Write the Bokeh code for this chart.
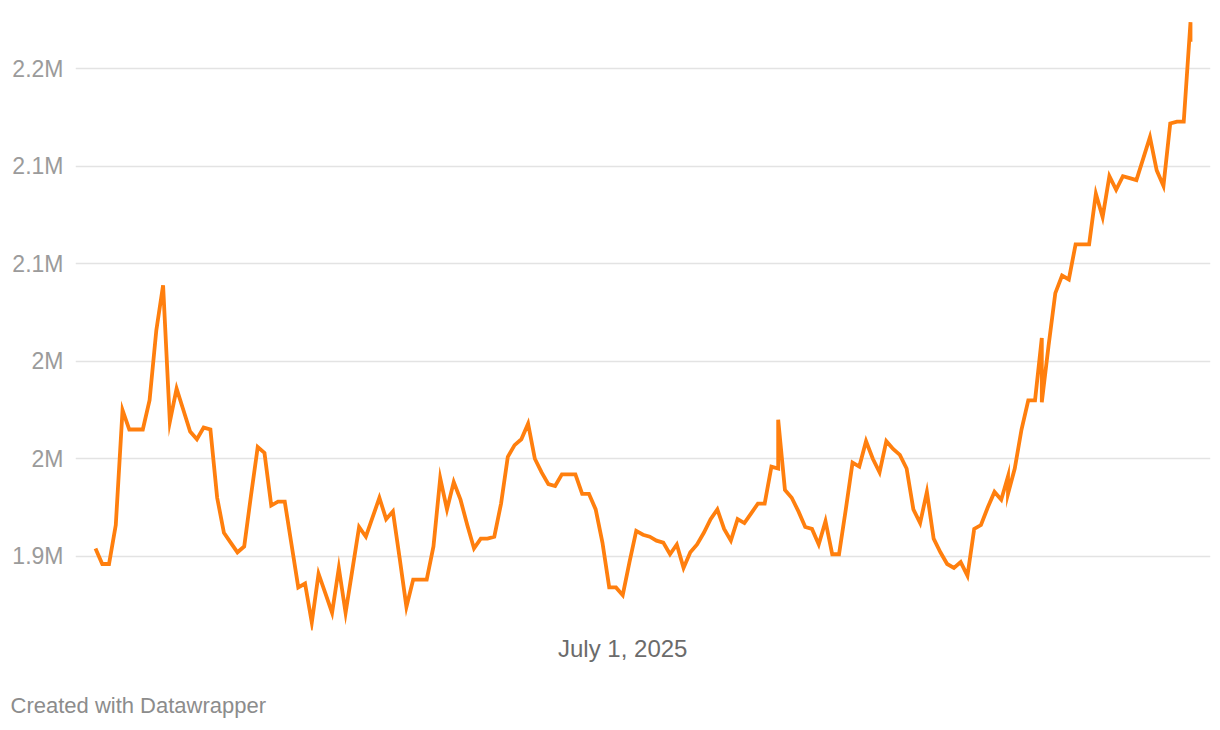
import pandas as pd
from bokeh.plotting import figure
from bokeh.models import ColumnDataSource, FixedTicker, Range1d, Title
from bokeh.embed import file_html
from bokeh.resources import INLINE

# ---- data ----
dates_apr = ["2025-04-14", "2025-04-15", "2025-04-16", "2025-04-17", "2025-04-18", "2025-04-19",
             "2025-04-20", "2025-04-21", "2025-04-22", "2025-04-23", "2025-04-24", "2025-04-25",
             "2025-04-26", "2025-04-27", "2025-04-28", "2025-04-29", "2025-04-30"]
values_apr = [1904000, 1896000, 1896000, 1916000, 1975000, 1965000,
              1965000, 1965000, 1980000, 2016000, 2039000, 1969000,
              1986000, 1975000, 1964000, 1960000, 1966000]

dates_may = ["2025-05-%02d" % d for d in range(1, 32)]
values_may = [1965000, 1930000, 1912000, 1907000, 1902000, 1905000, 1931000, 1956000,
              1953000, 1926000, 1928000, 1928000, 1906000, 1884000, 1886000, 1866000,
              1891000, 1881000, 1871000, 1894000, 1871000, 1893000, 1915000, 1910000,
              1920000, 1930000, 1919000, 1923000, 1899000, 1874000, 1888000]

dates_jun = ["2025-06-%02d" % d for d in range(1, 31)]
values_jun = [1888000, 1888000, 1905000, 1940000, 1924000, 1938000, 1929000, 1916000,
              1904000, 1909000, 1909000, 1910000, 1927000, 1951000, 1957000, 1960000,
              1968000, 1950000, 1943000, 1937000, 1936000, 1942000, 1942000, 1942000,
              1932000, 1932000, 1924000, 1907000, 1884000, 1884000]

dates_jul = ["2025-07-01", "2025-07-02", "2025-07-03", "2025-07-04", "2025-07-05", "2025-07-06",
             "2025-07-07", "2025-07-08", "2025-07-09", "2025-07-10", "2025-07-11", "2025-07-12",
             "2025-07-13", "2025-07-14", "2025-07-15", "2025-07-16", "2025-07-17", "2025-07-18",
             "2025-07-19", "2025-07-20", "2025-07-21", "2025-07-22", "2025-07-23", "2025-07-24",
             "2025-07-24", "2025-07-25", "2025-07-26", "2025-07-27", "2025-07-28", "2025-07-29",
             "2025-07-30", "2025-07-31"]
values_jul = [1880000, 1897000, 1913000, 1911000, 1910000, 1908000, 1907000, 1901000,
              1906000, 1894000, 1902000, 1906000, 1912000, 1919000, 1924000, 1914000,
              1908000, 1919000, 1917000, 1922000, 1927000, 1927000, 1946000, 1945000,
              1970000, 1934000, 1930000, 1923000, 1915000, 1914000, 1906000, 1918000]

dates_aug = ["2025-08-01", "2025-08-02", "2025-08-03", "2025-08-04", "2025-08-05", "2025-08-06",
             "2025-08-07", "2025-08-08", "2025-08-09", "2025-08-10", "2025-08-11", "2025-08-12",
             "2025-08-13", "2025-08-14", "2025-08-15", "2025-08-16", "2025-08-17", "2025-08-18",
             "2025-08-19", "2025-08-20", "2025-08-21", "2025-08-22", "2025-08-23", "2025-08-24",
             "2025-08-25", "2025-08-26", "2025-08-27", "2025-08-27", "2025-08-28", "2025-08-29",
             "2025-08-30", "2025-08-31"]
values_aug = [1901000, 1901000, 1924000, 1948000, 1946000, 1959000, 1950000, 1943000,
              1959000, 1955000, 1952000, 1945000, 1924000, 1917000, 1933000, 1909000,
              1902000, 1896000, 1894000, 1897000, 1890000, 1914000, 1916000, 1925000,
              1933000, 1929000, 1941000, 1932000, 1945000, 1965000, 1980000, 1980000]

dates_sep = ["2025-09-01", "2025-09-01", "2025-09-02", "2025-09-03", "2025-09-04", "2025-09-05",
             "2025-09-06", "2025-09-07", "2025-09-08", "2025-09-09", "2025-09-10", "2025-09-11",
             "2025-09-12", "2025-09-13", "2025-09-14", "2025-09-15", "2025-09-16", "2025-09-17",
             "2025-09-18", "2025-09-19", "2025-09-20", "2025-09-21", "2025-09-22", "2025-09-23",
             "2025-09-23"]
values_sep = [2012000, 1979000, 2008000, 2035000, 2044000, 2042000, 2060000, 2060000,
              2060000, 2086000, 2074000, 2095000, 2088000, 2095000, 2094000, 2093000,
              2104000, 2115000, 2098000, 2090000, 2122000, 2123000, 2123000, 2174000,
              2164000]

y_ticks = [1900000, 1950000, 2000000, 2050000, 2100000, 2150000]
y_tick_labels = ["1.9M", "2M", "2M", "2.1M", "2.1M", "2.2M"]
x_tick_dates = ["2025-07-01"]
x_tick_labels = ["July 1, 2025"]
footer_text = "Created with Datawrapper"

# ---- build ----
dates = pd.to_datetime(dates_apr + dates_may + dates_jun + dates_jul + dates_aug + dates_sep)
values = values_apr + values_may + values_jun + values_jul + values_aug + values_sep
src = ColumnDataSource(dict(date=dates, value=values))

FONT = "Liberation Sans"
span = dates.max() - dates.min()
pad = span * (20 / 1095)

p = figure(width=1214, height=724, x_axis_type="datetime",
           output_backend="svg", toolbar_location=None,
           x_range=Range1d(dates.min() - pad, dates.max() + pad),
           y_range=Range1d(1861880, 2180000),
           min_border_left=75, min_border_right=4, min_border_top=10, min_border_bottom=94)
p.outline_line_color = None
p.background_fill_color = "white"
p.border_fill_color = "white"

p.line(x="date", y="value", source=src, line_color="#ff7f0e", line_width=3.8, line_join="miter")

# y axis
p.yaxis.ticker = FixedTicker(ticks=[float(t) for t in y_ticks])
p.yaxis.major_label_overrides = {float(t): l for t, l in zip(y_ticks, y_tick_labels)}
p.yaxis.axis_line_color = None
p.yaxis.major_tick_line_color = None
p.yaxis.minor_tick_line_color = None
p.yaxis.major_tick_out = 0
p.yaxis.major_tick_in = 0
p.yaxis.major_label_standoff = 12
p.yaxis.major_label_text_font = FONT
p.yaxis.major_label_text_font_size = "23px"
p.yaxis.major_label_text_color = "#9b9b9b"

# x axis
x_ms = [float(pd.Timestamp(d).value // 10**6) for d in x_tick_dates]
p.xaxis.ticker = FixedTicker(ticks=x_ms)
p.xaxis.major_label_overrides = {t: l for t, l in zip(x_ms, x_tick_labels)}
p.xaxis.axis_line_color = None
p.xaxis.major_tick_line_color = None
p.xaxis.minor_tick_line_color = None
p.xaxis.major_tick_out = 0
p.xaxis.major_tick_in = 0
p.xaxis.major_label_standoff = 4
p.xaxis.major_label_text_font = FONT
p.xaxis.major_label_text_font_size = "24px"
p.xaxis.major_label_text_color = "#6b6b6b"

# grid
p.xgrid.grid_line_color = None
p.ygrid.ticker = FixedTicker(ticks=[float(t) for t in y_ticks])
p.ygrid.grid_line_color = "#e3e3e3"
p.ygrid.grid_line_width = 1.6

# spacer + footer below the x axis
spacer = Title(text=" ", standoff=21, text_font=FONT, text_font_size="2px")
p.add_layout(spacer, "below")
footer = Title(text=footer_text, align="left", offset=-65, standoff=2,
               text_font=FONT, text_font_size="22px", text_font_style="normal",
               text_color="#8c8c8c")
p.add_layout(footer, "below")

open("out.html", "w").write(file_html(p, INLINE))
